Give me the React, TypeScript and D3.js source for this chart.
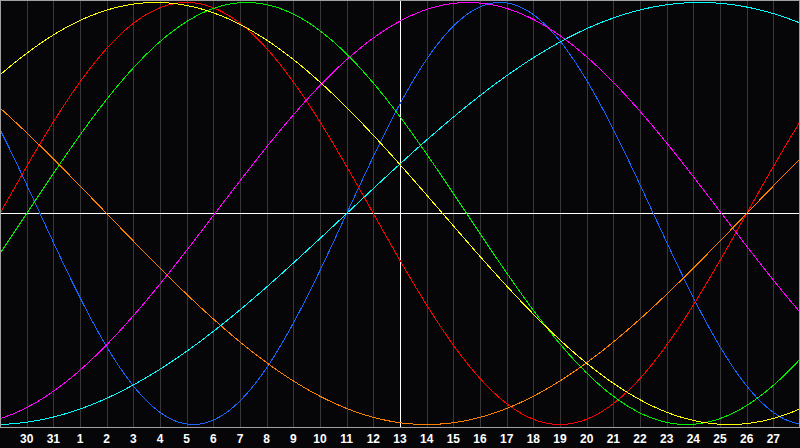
import React from "react";
import * as d3 from "d3";

// Day labels under the vertical grid lines (grid index 1..29)
const DAY_LABELS = [30, 31, 1, 2, 3, 4, 5, 6, 7, 8, 9, 10, 11, 12, 13, 14, 15, 16, 17, 18, 19, 20, 21, 22, 23, 24, 25, 26, 27];
const DAYS_SPAN = 30;
const TODAY_INDEX = 15;

// Biorhythm cycles
const CYCLE_NAMES = ["Physical", "Emotional", "Intellectual", "Intuitive", "Aesthetic", "Awareness", "Spiritual"];
const CYCLE_PERIODS = [23, 28, 33, 38, 43, 48, 53];
// day (grid units from left edge) at which each cycle crosses zero going up
const CYCLE_RISING_ZERO = [13.0, 0.0, 1.0, 8.06, -4.9, 28.0, 13.0];
const CYCLE_COLORS = ["#1466ff", "#ff0000", "#00ee00", "#ff00ff", "#ffff00", "#ff8000", "#00ffff"];

const W = 800;
const H = 448;
const PLOT_BOTTOM = 427.5;

export default function App() {
  const x = d3.scaleLinear().domain([0, DAYS_SPAN]).range([0, W]);
  const y = d3.scaleLinear().domain([-1, 1]).range([424.5, 2.5]);
  const samples = d3.range(0, DAYS_SPAN + 0.001, 0.02);

  const line = d3
    .line<number>()
    .x((d) => x(d))
    .y((d) => d);

  const paths = CYCLE_NAMES.map((name, i) => {
    const p = CYCLE_PERIODS[i];
    const z = CYCLE_RISING_ZERO[i];
    const gen = d3
      .line<number>()
      .x((d) => x(d))
      .y((d) => y(Math.sin((2 * Math.PI * (d - z)) / p)));
    return { name, d: gen(samples) || "", color: CYCLE_COLORS[i] };
  });
  void line;

  const gridIdx = d3.range(1, DAYS_SPAN);

  return (
    <svg
      width={W}
      height={H}
      style={{ position: "fixed", left: 0, top: 0, display: "block", background: "#060609" }}
    >
      <rect x={0} y={0} width={W} height={H} fill="#060609" />
      {gridIdx.map((g) => (
        <line
          key={g}
          x1={Math.round(x(g)) + 0.5}
          x2={Math.round(x(g)) + 0.5}
          y1={0}
          y2={PLOT_BOTTOM}
          stroke={g === TODAY_INDEX ? "#ffffff" : "#383838"}
          strokeWidth={1}
          shapeRendering="crispEdges"
        />
      ))}
      <line x1={0} x2={W} y1={213.5} y2={213.5} stroke="#ffffff" strokeWidth={1} shapeRendering="crispEdges" />
      {paths.map((p) => (
        <path key={p.name} d={p.d} fill="none" stroke={p.color} strokeWidth={1} shapeRendering="crispEdges" />
      ))}
      <rect
        x={0.5}
        y={0.5}
        width={W - 1}
        height={PLOT_BOTTOM - 0.5}
        fill="none"
        stroke="#a0a0a0"
        strokeWidth={1}
        shapeRendering="crispEdges"
      />
      {gridIdx.map((g, i) => (
        <text
          key={"t" + g}
          x={x(g)}
          y={443}
          textAnchor="middle"
          fill="#ffffff"
          fontFamily="'Liberation Sans', Arial, sans-serif"
          fontWeight="bold"
          fontSize={12}
        >
          {DAY_LABELS[i]}
        </text>
      ))}
    </svg>
  );
}
